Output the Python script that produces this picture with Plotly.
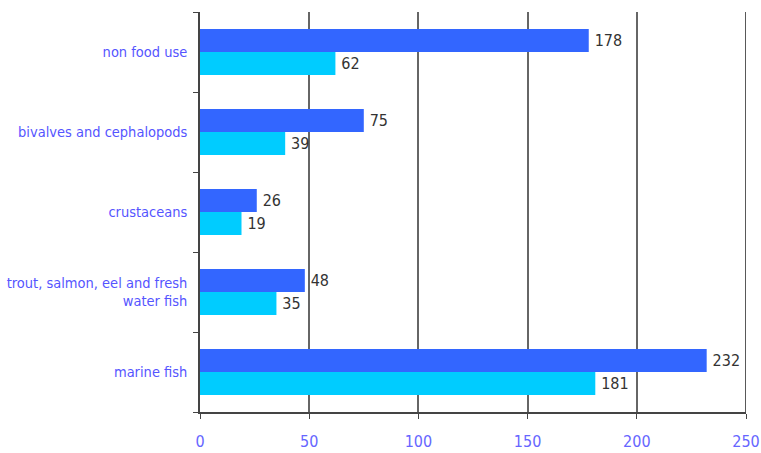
import plotly.graph_objects as go

categories = [
    "marine fish",
    "trout, salmon, eel and fresh<br>water fish",
    "crustaceans",
    "bivalves and cephalopods",
    "non food use",
]
series_dark = [232, 48, 26, 75, 178]
series_cyan = [181, 35, 19, 39, 62]

FONT = "DejaVu Sans Condensed, sans-serif"

fig = go.Figure()

# cyan first so it sits below the dark bar in each group
fig.add_trace(
    go.Bar(
        y=categories,
        x=series_cyan,
        orientation="h",
        marker=dict(color="#00CCFF", line=dict(width=0)),
        texttemplate="\u2009%{x}",
        textposition="outside",
        textfont=dict(color="#333333", size=16, family=FONT),
        cliponaxis=False,
    )
)
fig.add_trace(
    go.Bar(
        y=categories,
        x=series_dark,
        orientation="h",
        marker=dict(color="#3366FF", line=dict(width=0)),
        texttemplate="\u2009%{x}",
        textposition="outside",
        textfont=dict(color="#333333", size=16, family=FONT),
        cliponaxis=False,
    )
)

fig.add_vline(x=250, line_color="#222222", line_width=1.5)

fig.update_layout(
    width=761,
    height=453,
    margin=dict(l=200, r=15, t=12, b=41),
    barmode="group",
    bargap=0.425,
    bargroupgap=0,
    showlegend=False,
    plot_bgcolor="white",
    paper_bgcolor="white",
    font=dict(family=FONT, size=14.5, color="#5555FF"),
)

fig.update_xaxes(
    range=[0, 250],
    tickvals=[0, 50, 100, 150, 200, 250],
    showgrid=True,
    gridcolor="#666666",
    gridwidth=1.5,
    zeroline=False,
    showline=True,
    linecolor="#444444",
    linewidth=1.5,
    ticks="outside",
    ticklen=5,
    tickcolor="#444444",
    tickfont=dict(color="#6666FF", size=16),
    ticklabelstandoff=9,
    automargin=False,
)

fig.update_yaxes(
    showgrid=False,
    showline=True,
    linecolor="#444444",
    linewidth=1.5,
    ticks="outside",
    tickson="boundaries",
    ticklen=5,
    tickcolor="#444444",
    tickfont=dict(color="#5555FF", size=14.5),
    ticklabelstandoff=8,
    automargin=False,
)

# drop the page's default body margin so the figure sits at the top-left corner
fig.write_html(
    "out.html",
    config={"displayModeBar": False},
    post_script="document.body.style.margin = '0';",
)
